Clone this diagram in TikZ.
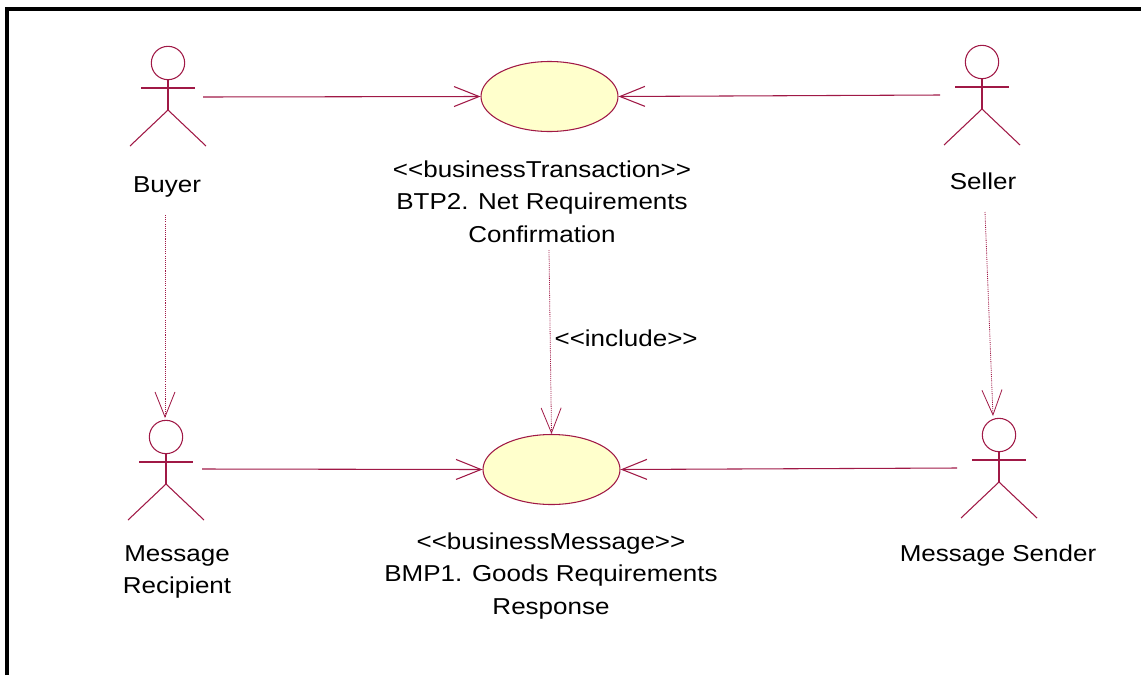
\documentclass[tikz,border=0pt]{standalone}
\usepackage{fontspec}
\setmainfont{Liberation Sans}[FakeStretch=1.13,Ligatures=TeXOff]
\usetikzlibrary{arrows.meta}
\usetikzlibrary{shapes.geometric}
\definecolor{umlred}{RGB}{160,25,70}
\definecolor{ucfill}{RGB}{255,255,204}
\tikzset{
    uml/.style={draw=umlred,line width=0.8pt},
    head/.style={uml,circle,minimum size=25pt,inner sep=0pt},
    usecase/.style={uml,fill=ucfill,ellipse,minimum width=102.75pt,minimum height=52.5pt,inner sep=0pt},
    assoc/.style={uml,-{Straight Barb[length=18.75pt,width=15pt]}},
    depend/.style={assoc,line width=0.6pt,dash pattern=on 0.8pt off 0.8pt},
    label/.style={text=black,inner sep=0pt,align=center,font=\fontsize{17.25}{24.5}\selectfont}
}
\begin{document}
\begin{tikzpicture}[x=0.75pt,y=-0.75pt]
                \useasboundingbox (0,0) rectangle (1141,675);
                \draw[line width=3pt] (7,675) -- (7,9) -- (1141,9);
                % actors
                \foreach \n/\x/\y in {buyer/168/63,seller/982/62,recipient/166/437,sender/999/435} {
                    \node[head] (\n) at (\x,\y) {};
                    \draw[uml] (\n.south) -- (\x,\y+47);
                    \draw[uml] (\x-27,\y+25) -- (\x+27,\y+25);
                    \draw[uml] (\x-38,\y+83) -- (\x,\y+47) -- (\x+38,\y+83);
                }
                \node[label,anchor=base] (buyer-label) at (167,192) {Buyer};
                \node[label,anchor=base] (seller-label) at (983,189) {Seller};
                \node[label] (recipient-label) at (177,572) {Message\\Recipient};
                \node[label,anchor=base] (sender-label) at (998,561) {Message Sender};
                % use cases
                \node[usecase] (btp) at (549.5,96.5) {};
                \node[usecase] (bmp) at (551.5,469.5) {};
                \node[label] (btp-label) at (542,201.5) {<<businessTransaction>>\\BTP2. Net Requirements\\Confirmation};
                \node[label] (bmp-label) at (551,576) {<<businessMessage>>\\BMP1. Goods Requirements\\Response};
                % connector ends
                \coordinate (buyer-r) at (203,97);
                \coordinate (seller-l) at (940,95);
                \coordinate (recipient-r) at (202,469);
                \coordinate (sender-l) at (957,468);
                \coordinate (buyer-b) at (165,215);
                \coordinate (recipient-t) at (165,418);
                \coordinate (seller-b) at (985,212);
                \coordinate (sender-t) at (993,416);
                \coordinate (btp-b) at (549,250);
                \draw[assoc] (buyer-r) -- (btp.west);
                \draw[assoc] (seller-l) -- (btp.east);
                \draw[assoc] (recipient-r) -- (bmp.west);
                \draw[assoc] (sender-l) -- (bmp.east);
                \draw[depend] (buyer-b) -- (recipient-t);
                \draw[depend] (seller-b) -- (sender-t);
                \draw[depend] (btp-b) -- (bmp.north) node[label,pos=0.48,anchor=west,xshift=3pt] (include) {<<include>>};
            \end{tikzpicture}
\end{document}
